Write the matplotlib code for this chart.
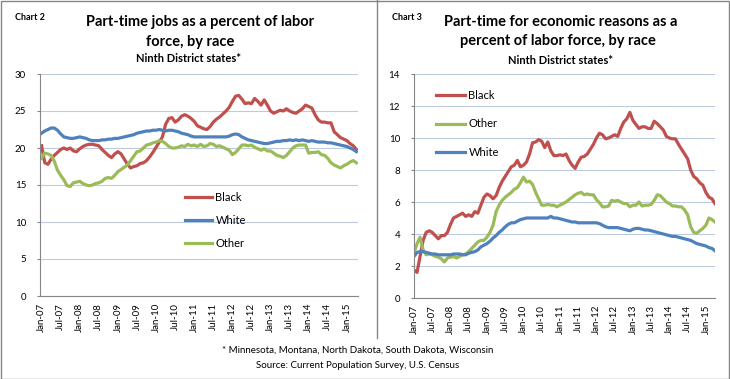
import matplotlib
matplotlib.use('Agg')
import matplotlib.pyplot as plt
from matplotlib.lines import Line2D

plt.rcParams['font.family'] = ['Lato', 'DejaVu Sans']

# month labels, every 6th month of Jan-07 .. Apr-15 (100 months)
tick_labels = ['Jan-07', 'Jul-07', 'Jan-08', 'Jul-08', 'Jan-09', 'Jul-09', 'Jan-10', 'Jul-10',
               'Jan-11', 'Jul-11', 'Jan-12', 'Jul-12', 'Jan-13', 'Jul-13', 'Jan-14', 'Jul-14', 'Jan-15']

# chart 2: part-time jobs as % of labor force
pt_black = [20.3, 18.0, 17.8, 18.5, 19.0, 19.4, 19.8, 20.0, 19.8, 20.0,
            19.6, 19.5, 19.9, 20.2, 20.4, 20.5, 20.5, 20.4, 20.3, 19.8,
            19.4, 19.0, 18.7, 19.2, 19.5, 19.2, 18.5, 17.8, 17.3, 17.5,
            17.6, 17.9, 18.0, 18.3, 18.8, 19.4, 20.1, 20.8, 21.5, 23.2,
            24.0, 24.1, 23.5, 23.8, 24.3, 24.5, 24.3, 24.0, 23.6, 23.0,
            22.8, 22.6, 22.5, 22.9, 23.5, 23.9, 24.2, 24.6, 25.0, 25.5,
            26.3, 27.0, 27.1, 26.6, 26.0, 26.1, 26.0, 26.7, 26.3, 25.8,
            26.5, 25.8, 25.0, 24.7, 24.9, 25.1, 25.0, 25.3, 25.0, 24.8,
            24.7, 25.0, 25.3, 25.8, 25.6, 25.4, 24.5, 23.8, 23.5, 23.5,
            23.4, 23.4, 22.2, 21.8, 21.4, 21.2, 21.0, 20.6, 20.3, 19.8]
pt_white = [22.0, 22.3, 22.5, 22.7, 22.7, 22.4, 21.9, 21.5, 21.4, 21.3,
            21.3, 21.4, 21.5, 21.4, 21.3, 21.1, 21.0, 21.0, 21.0, 21.1,
            21.1, 21.2, 21.2, 21.3, 21.3, 21.4, 21.5, 21.6, 21.7, 21.8,
            22.0, 22.1, 22.2, 22.3, 22.3, 22.4, 22.4, 22.5, 22.4, 22.3,
            22.4, 22.4, 22.3, 22.2, 22.0, 21.9, 21.8, 21.6, 21.5, 21.5,
            21.5, 21.5, 21.5, 21.5, 21.5, 21.5, 21.5, 21.5, 21.5, 21.6,
            21.8, 21.9, 21.8, 21.5, 21.3, 21.1, 21.0, 20.9, 20.8, 20.7,
            20.6, 20.6, 20.7, 20.8, 20.9, 20.9, 21.0, 21.0, 21.1, 21.0,
            21.1, 21.0, 21.1, 21.0, 20.9, 21.0, 20.9, 20.8, 20.8, 20.8,
            20.7, 20.7, 20.6, 20.5, 20.4, 20.3, 20.2, 20.0, 19.8, 19.5]
pt_other = [18.6, 19.3, 19.2, 19.0, 18.2, 17.0, 16.3, 15.7, 14.9, 14.8,
            15.3, 15.4, 15.5, 15.2, 15.0, 14.9, 15.0, 15.2, 15.3, 15.5,
            15.9, 16.0, 15.9, 16.3, 16.8, 17.1, 17.4, 17.7, 18.3, 18.9,
            19.5, 19.6, 20.0, 20.4, 20.5, 20.7, 20.8, 21.0, 20.9, 20.6,
            20.2, 20.0, 20.0, 20.1, 20.3, 20.2, 20.5, 20.3, 20.4, 20.2,
            20.5, 20.2, 20.3, 20.6, 20.5, 20.2, 20.3, 20.1, 19.9, 19.7,
            19.1, 19.4, 19.9, 20.4, 20.4, 20.3, 20.4, 20.1, 19.9, 19.7,
            19.9, 19.6, 19.6, 19.3, 19.0, 18.9, 18.7, 19.0, 19.5, 20.0,
            20.3, 20.4, 20.4, 20.4, 19.3, 19.4, 19.4, 19.5, 19.1, 19.0,
            18.6, 18.0, 17.7, 17.5, 17.3, 17.6, 17.8, 18.1, 18.3, 18.0]

# chart 3: part-time for economic reasons as % of labor force
pter_black = [1.75, 1.6, 2.6, 3.6, 4.1, 4.2, 4.1, 3.9, 3.7, 3.9,
              3.9, 4.1, 4.6, 5.0, 5.1, 5.2, 5.3, 5.1, 5.2, 5.1,
              5.4, 5.3, 5.8, 6.3, 6.5, 6.4, 6.2, 6.4, 6.9, 7.3,
              7.6, 7.9, 8.2, 8.3, 8.6, 8.2, 8.3, 8.5, 9.0, 9.7,
              9.75, 9.9, 9.8, 9.4, 9.75, 9.2, 8.9, 8.9, 8.95, 8.9,
              9.0, 8.6, 8.3, 8.1, 8.5, 8.8, 8.85, 9.0, 9.3, 9.6,
              10.0, 10.3, 10.2, 9.95, 10.0, 10.1, 10.2, 10.1, 10.6, 11.0,
              11.2, 11.6, 11.1, 10.85, 10.6, 10.7, 10.7, 10.6, 10.6, 11.05,
              10.9, 10.7, 10.5, 10.1, 10.0, 9.95, 9.95, 9.6, 9.3, 9.0,
              8.7, 8.0, 7.6, 7.45, 7.2, 7.05, 6.6, 6.3, 6.2, 5.9]
pter_other = [2.8, 3.4, 3.8, 3.0, 2.7, 2.75, 2.7, 2.6, 2.55, 2.45,
              2.25, 2.5, 2.55, 2.6, 2.5, 2.6, 2.7, 2.75, 2.9, 3.1,
              3.3, 3.5, 3.6, 3.6, 3.8, 4.1, 4.55, 5.4, 5.8, 6.1,
              6.3, 6.45, 6.6, 6.8, 6.9, 7.2, 7.55, 7.25, 7.3, 7.1,
              6.6, 6.2, 5.8, 5.8, 5.85, 5.8, 5.8, 5.7, 5.8, 5.9,
              6.0, 6.15, 6.3, 6.45, 6.55, 6.6, 6.45, 6.5, 6.45, 6.45,
              6.15, 5.95, 5.7, 5.7, 5.75, 6.1, 6.05, 6.1, 6.0, 5.9,
              5.9, 5.7, 5.8, 5.8, 6.0, 5.75, 5.8, 5.8, 5.85, 6.1,
              6.45, 6.4, 6.2, 6.0, 5.9, 5.75, 5.75, 5.7, 5.7, 5.5,
              5.2, 4.45, 4.1, 4.05, 4.2, 4.35, 4.55, 5.0, 4.9, 4.75]
pter_white = [2.6, 2.85, 2.9, 2.9, 2.85, 2.8, 2.75, 2.75, 2.7, 2.7,
              2.7, 2.7, 2.7, 2.75, 2.75, 2.75, 2.7, 2.7, 2.8, 2.85,
              2.9, 3.0, 3.2, 3.3, 3.4, 3.55, 3.75, 3.9, 4.1, 4.25,
              4.45, 4.6, 4.7, 4.7, 4.8, 4.9, 4.95, 5.0, 5.0, 5.0,
              5.0, 5.0, 5.0, 5.0, 5.0, 5.1, 5.0, 5.0, 4.95, 4.9,
              4.85, 4.8, 4.75, 4.75, 4.7, 4.7, 4.7, 4.7, 4.7, 4.7,
              4.7, 4.65, 4.55, 4.45, 4.4, 4.4, 4.4, 4.4, 4.35, 4.3,
              4.25, 4.2, 4.3, 4.35, 4.35, 4.3, 4.25, 4.25, 4.2, 4.15,
              4.1, 4.05, 4.0, 3.95, 3.9, 3.85, 3.85, 3.8, 3.75, 3.7,
              3.65, 3.6, 3.5, 3.4, 3.35, 3.3, 3.25, 3.15, 3.1, 2.95]

RED = '#C0504D'
BLUE = '#4F81BD'
GREEN = '#9BBB59'
GRID = '#BCCBE0'
AXC = '#868686'
LW = 2.3

fig = plt.figure(figsize=(7.30, 3.79), dpi=100)
fig.patch.set_facecolor('white')


def style_axes(ax, yticks, xlim):
    ax.set_xlim(*xlim)
    ax.set_ylim(yticks[0], yticks[-1])
    ax.set_yticks(yticks)
    ax.set_xticks(range(0, 100, 6))
    ax.set_xticklabels(tick_labels, rotation=90, fontsize=7)
    ax.tick_params(axis='x', length=0, pad=5)
    ax.tick_params(axis='y', length=2, labelsize=7, color=AXC, pad=8)
    for t in ax.get_yticklabels():
        t.set_horizontalalignment('right')
    ax.grid(axis='y', color=GRID, lw=0.8)
    ax.set_axisbelow(True)
    for s in ['top', 'right']:
        ax.spines[s].set_visible(False)
    ax.spines['left'].set_color(AXC)
    ax.spines['bottom'].set_color(AXC)


months = list(range(100))

# left chart
ax1 = fig.add_axes([40 / 730, 83 / 379, 318 / 730, 222 / 379])
ax1.plot(months, pt_black, color=RED, lw=LW, label='Black')
ax1.plot(months, pt_white, color=BLUE, lw=LW, label='White')
ax1.plot(months, pt_other, color=GREEN, lw=LW, label='Other')
style_axes(ax1, [0, 5, 10, 15, 20, 25, 30], (-0.5, 99.5))
ax1.legend(loc='center left', bbox_to_anchor=(0.44, 0.34), frameon=False, fontsize=8,
           handlelength=2.4, handletextpad=0.3, labelspacing=1.05, borderpad=0)

# right chart
ax2 = fig.add_axes([414 / 730, 81 / 379, 301 / 730, 224 / 379])
ax2.plot(months, pter_black, color=RED, lw=LW, label='Black')
ax2.plot(months, pter_other, color=GREEN, lw=LW, label='Other')
ax2.plot(months, pter_white, color=BLUE, lw=LW, label='White')
style_axes(ax2, [0, 2, 4, 6, 8, 10, 12, 14], (0, 99))
ax2.legend(loc='center left', bbox_to_anchor=(0.055, 0.777), frameon=False, fontsize=8,
           handlelength=2.6, handletextpad=0.3, labelspacing=1.55, borderpad=0)

# titles and labels
fig.text(15 / 730, 1 - 18 / 379, 'Chart 2', fontsize=6.5, fontweight='bold', va='center')
fig.text(200 / 730, 1 - 22 / 379, 'Part-time jobs as a percent of labor', fontsize=10.5,
         fontweight='bold', ha='center', va='center')
fig.text(190 / 730, 1 - 42 / 379, 'force, by race', fontsize=10.5,
         fontweight='bold', ha='center', va='center')
fig.text(188 / 730, 1 - 59 / 379, 'Ninth District states*', fontsize=8,
         fontweight='bold', ha='center', va='center')

fig.text(392 / 730, 1 - 17 / 379, 'Chart 3', fontsize=6.5, fontweight='bold', va='center')
fig.text(561 / 730, 1 - 22 / 379, 'Part-time for economic reasons as a', fontsize=10.5,
         fontweight='bold', ha='center', va='center')
fig.text(558 / 730, 1 - 41 / 379, 'percent of labor force, by race', fontsize=10.5,
         fontweight='bold', ha='center', va='center')
fig.text(560 / 730, 1 - 60 / 379, 'Ninth District states*', fontsize=8,
         fontweight='bold', ha='center', va='center')

fig.text(358 / 730, 1 - 350 / 379, '* Minnesota, Montana, North Dakota, South Dakota, Wisconsin',
         fontsize=7, ha='center', va='center')
fig.text(358 / 730, 1 - 366 / 379, 'Source: Current Population Survey, U.S. Census',
         fontsize=7, ha='center', va='center')

# borders
fig.add_artist(plt.Rectangle((0.5 / 730, 0.5 / 379), 728.5 / 730, 377.5 / 379,
                             transform=fig.transFigure, fill=False, ec=AXC, lw=1))
fig.add_artist(Line2D([377 / 730, 377 / 730], [1, 1 - 338 / 379],
                      transform=fig.transFigure, color=AXC, lw=1))

fig.savefig('out.png', dpi=100)
